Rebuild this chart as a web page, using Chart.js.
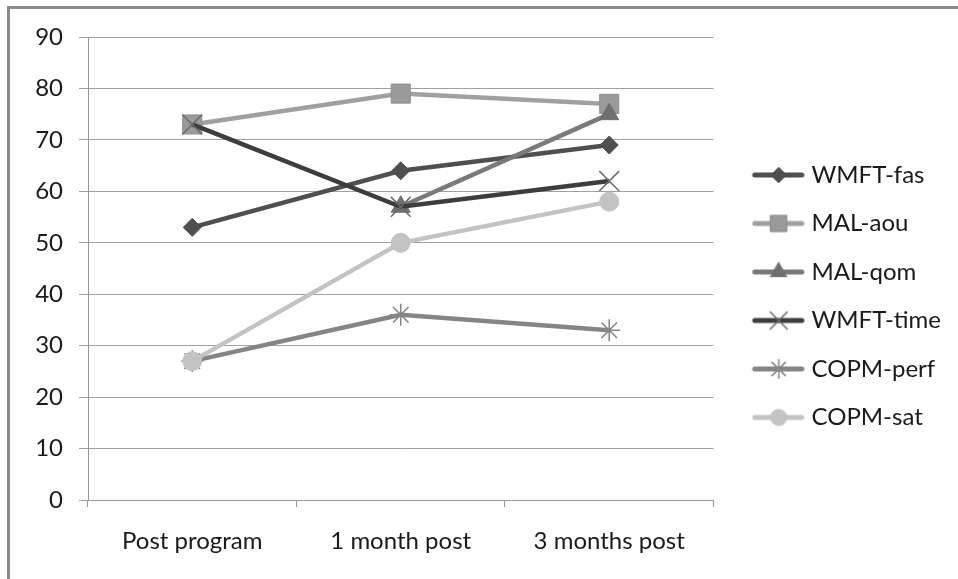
<!DOCTYPE html>
<html>
<head>
<meta charset="utf-8">
<script src="https://cdn.jsdelivr.net/npm/chart.js@4"></script>
<style>
  html, body { margin: 0; padding: 0; background: #fff; }
  #wrap { position: relative; width: 958px; height: 579px; overflow: hidden; }
  #frame { position: absolute; left: 7px; top: 6px; right: -10px; bottom: -10px;
           border-top: 3px solid #8c8c8c; border-left: 3px solid #8c8c8c; }
  canvas { position: absolute; left: 0; top: 0; }
</style>
</head>
<body>
<div id="wrap">
  <div id="frame"></div>
  <canvas id="myChart" width="958" height="579"></canvas>
</div>
<script>
var categories = ["Post program", "1 month post", "3 months post"];
var seriesNames = ["WMFT-fas", "MAL-aou", "MAL-qom", "WMFT-time", "COPM-perf", "COPM-sat"];
var wmftFas = [53, 64, 69];
var malAou = [73, 79, 77];
var malQom = [null, 57, 75];
var wmftTime = [73, 57, 62];
var copmPerf = [27, 36, 33];
var copmSat = [27, 50, 58];
var yMin = 0, yMax = 90, yStep = 10;

var fontFamily = "Lato, 'Open Sans', sans-serif";
var textColor = "#1a1a1a";

// line colour, marker style, marker fill, marker border, radius, marker border width
var styles = [
  { line: "#4f4f4f", point: "rectRot",  fill: "#4f4f4f", border: "#4f4f4f", r: 9,    bw: 1 },
  { line: "#a0a0a0", point: "rect",     fill: "#9a9a9a", border: "#8e8e8e", r: 13.5, bw: 1 },
  { line: "#7a7a7a", point: "triangle", fill: "#6f6f6f", border: "#6f6f6f", r: 11,   bw: 1 },
  { line: "#3d3d3d", point: "crossRot", fill: "#666666", border: "#6a6a6a", r: 14,   bw: 1.5 },
  { line: "#858585", point: "star",     fill: "#808080", border: "#858585", r: 11,   bw: 1.5 },
  { line: "#c3c3c3", point: "circle",   fill: "#c3c3c3", border: "#c3c3c3", r: 9.5,  bw: 1 }
];
var values = [wmftFas, malAou, malQom, wmftTime, copmPerf, copmSat];

function legendIcon(s) {
  var c = document.createElement("canvas");
  c.width = 72; c.height = 30;
  var ctx = c.getContext("2d");
  ctx.strokeStyle = s.line; ctx.lineWidth = 5; ctx.lineCap = "round";
  ctx.beginPath(); ctx.moveTo(22, 15); ctx.lineTo(69, 15); ctx.stroke();
  ctx.fillStyle = s.fill; ctx.strokeStyle = s.border; ctx.lineWidth = s.bw;
  Chart.helpers.drawPoint(ctx, { pointStyle: s.point, radius: s.r * 0.85, borderWidth: s.bw, rotation: 0 }, 46, 15);
  return c;
}

var datasets = seriesNames.map(function (name, i) {
  var s = styles[i];
  return {
    label: name,
    data: values[i],
    borderColor: s.line,
    backgroundColor: s.fill,
    borderWidth: 4.5,
    pointStyle: s.point,
    pointRadius: s.r,
    pointHoverRadius: s.r,
    pointBackgroundColor: s.fill,
    pointBorderColor: s.border,
    pointBorderWidth: s.bw,
    tension: 0,
    spanGaps: false,
    order: seriesNames.length - i
  };
});

var icons = styles.map(legendIcon);

new Chart("myChart", {
  type: "line",
  data: { labels: categories, datasets: datasets },
  options: {
    responsive: false,
    animation: false,
    layout: { padding: { left: 0, top: 37, right: 7, bottom: 23.5 } },
    plugins: {
      tooltip: { enabled: false },
      legend: {
        position: "right",
        labels: {
          usePointStyle: true,
          pointStyleWidth: 61.5,
          padding: 24.5,
          color: textColor,
          font: { family: fontFamily, size: 24 },
          sort: function (a, b) { return a.datasetIndex - b.datasetIndex; },
          generateLabels: function (chart) {
            var items = Chart.defaults.plugins.legend.labels.generateLabels(chart);
            items.forEach(function (it) { it.pointStyle = icons[it.datasetIndex]; });
            return items;
          }
        }
      }
    },
    scales: {
      x: {
        offset: true,
        grid: { offset: true, drawOnChartArea: false, drawTicks: true, tickLength: 7, color: "#999" },
        border: { display: true, color: "#999" },
        ticks: { color: textColor, font: { family: fontFamily, size: 24 }, padding: 20, maxRotation: 0 },
        afterFit: function (scale) { scale.height = 55.5; }
      },
      y: {
        min: yMin, max: yMax,
        grid: { color: "#a0a0a0", tickLength: 9 },
        border: { display: true, color: "#999" },
        ticks: { stepSize: yStep, color: textColor, font: { family: fontFamily, size: 24 }, padding: 16 },
        afterFit: function (scale) { scale.width = 88; }
      }
    }
  }
});
</script>
</body>
</html>
